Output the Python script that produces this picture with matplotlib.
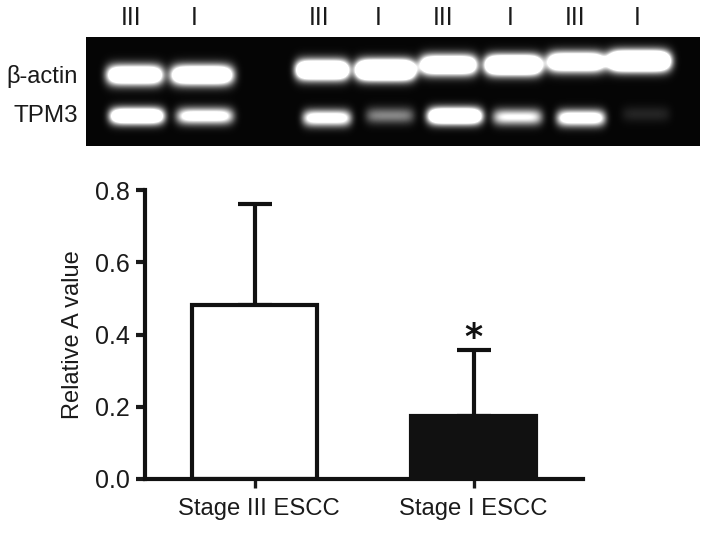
import numpy as np
import matplotlib
matplotlib.use("Agg")
import matplotlib.pyplot as plt
from matplotlib.transforms import ScaledTranslation, offset_copy

plt.rcParams['font.family'] = ['Liberation Sans', 'DejaVu Sans']

# ---- bar data
categories = ['Stage III ESCC', 'Stage I ESCC']
means = [0.483, 0.175]
errors = [0.277, 0.183]
y_ticks = [0.0, 0.2, 0.4, 0.6, 0.8]

# ---- gel data (horizontal band extents on the gel, band row, brightness)
lane_labels = ['III', 'I', 'III', 'I', 'III', 'I', 'III', 'I']
lane_centres = [131, 194, 319, 378, 443, 510, 575, 637]
actin_left = [107, 171, 296, 356, 420, 485, 547, 608]
actin_right = [163, 233, 349, 415, 477, 542, 605, 670]
actin_y = [75, 75, 70, 70, 65, 65, 62, 61]
actin_level = [2.0, 2.1, 2.4, 3.0, 2.2, 2.6, 2.1, 3.0]
tpm_left = [110, 177, 303, 366, 428, 493, 557, 622]
tpm_right = [164, 233, 351, 414, 482, 542, 605, 670]
tpm_y = [116, 116, 118, 115.5, 116, 117, 118, 114]
tpm_level = [2.0, 1.3, 1.3, 0.5, 2.2, 1.0, 1.4, 0.12]

W, H = 708, 560
fig = plt.figure(figsize=(W / 100, H / 100), dpi=100, facecolor='white')

def px_axes(x0, y0, x1, y1):
    return fig.add_axes([x0 / W, 1 - y1 / H, (x1 - x0) / W, (y1 - y0) / H])

# ---- gel image
gel = px_axes(86, 37, 700, 146)
xs = np.arange(86, 700) + .5
ys = np.arange(37, 146) + .5
X, Y = np.meshgrid(xs, ys)
img = np.zeros_like(X)

def add_bands(lefts, rights, rows, levels, sy):
    global img
    for l, r, c, a in zip(lefts, rights, rows, levels):
        m, h = (l + r) / 2, (r - l) / 2
        img += a * np.exp(-np.abs((X - m) / h) ** 6) * np.exp(-((Y - c) / sy) ** 2)

add_bands(actin_left, actin_right, actin_y, actin_level, 9.5)
add_bands(tpm_left, tpm_right, tpm_y, tpm_level, 8.0)
img = np.clip(img + 0.02, 0, 1)
gel.imshow(img, cmap='gray', vmin=0, vmax=1, extent=(86, 700, 146, 37),
           aspect='auto', interpolation='bilinear')
gel.set_axis_off()

# ---- text around the gel, placed in gel coordinates
for name, cx in zip(lane_labels, lane_centres):
    gel.text(cx, 18, name, ha='center', va='center', fontsize=18,
             color='#1a1a1a', clip_on=False)
gel.text(78, 76, 'β-actin', ha='right', va='center', fontsize=17,
         color='#1a1a1a', clip_on=False)
gel.text(78, 116, 'TPM3', ha='right', va='center', fontsize=17.5,
         color='#1a1a1a', clip_on=False)

# ---- bar chart
ax = px_axes(145, 190, 583, 479)
pos = np.arange(len(categories))
lw = 3.0
ax.bar(pos, means, width=0.575, color=['white', '#111111'], edgecolor='#111111',
       linewidth=lw, zorder=2)
ax.errorbar(pos, means, yerr=[[0, 0], errors], fmt='none', ecolor='#111111',
            elinewidth=lw, capsize=12, capthick=lw, zorder=1)
ax.set_xlim(-0.5, 1.5)
ax.set_ylim(0, 0.8)
ax.set_xticks(pos, categories)
ax.set_yticks(y_ticks, [f'{v:.1f}' for v in y_ticks])
ax.tick_params(axis='y', length=6.5, width=lw, labelsize=18, pad=4.5, colors='#1a1a1a')
ax.tick_params(axis='x', length=6.5, width=2.4, labelsize=17.2, pad=7, colors='#1a1a1a')
first = ax.get_xticklabels()[0]
first.set_transform(first.get_transform() + ScaledTranslation(4 / 100, 0, fig.dpi_scale_trans))
for s in ['top', 'right']:
    ax.spines[s].set_visible(False)
for s in ['left', 'bottom']:
    ax.spines[s].set_linewidth(lw)
    ax.spines[s].set_color('#111111')
    ax.spines[s].set_capstyle('projecting')
ax.set_ylabel('Relative A value', fontsize=17, color='#1a1a1a', labelpad=7.5)
star_tf = offset_copy(ax.transData, fig=fig, x=0, y=-8, units='dots')
ax.text(pos[1], means[1] + errors[1] + 0.008, '*', ha='center', va='bottom',
        fontsize=25, color='#111111', family='DejaVu Sans', fontweight='bold',
        transform=star_tf)

fig.savefig('out.png', dpi=100, facecolor='white')
